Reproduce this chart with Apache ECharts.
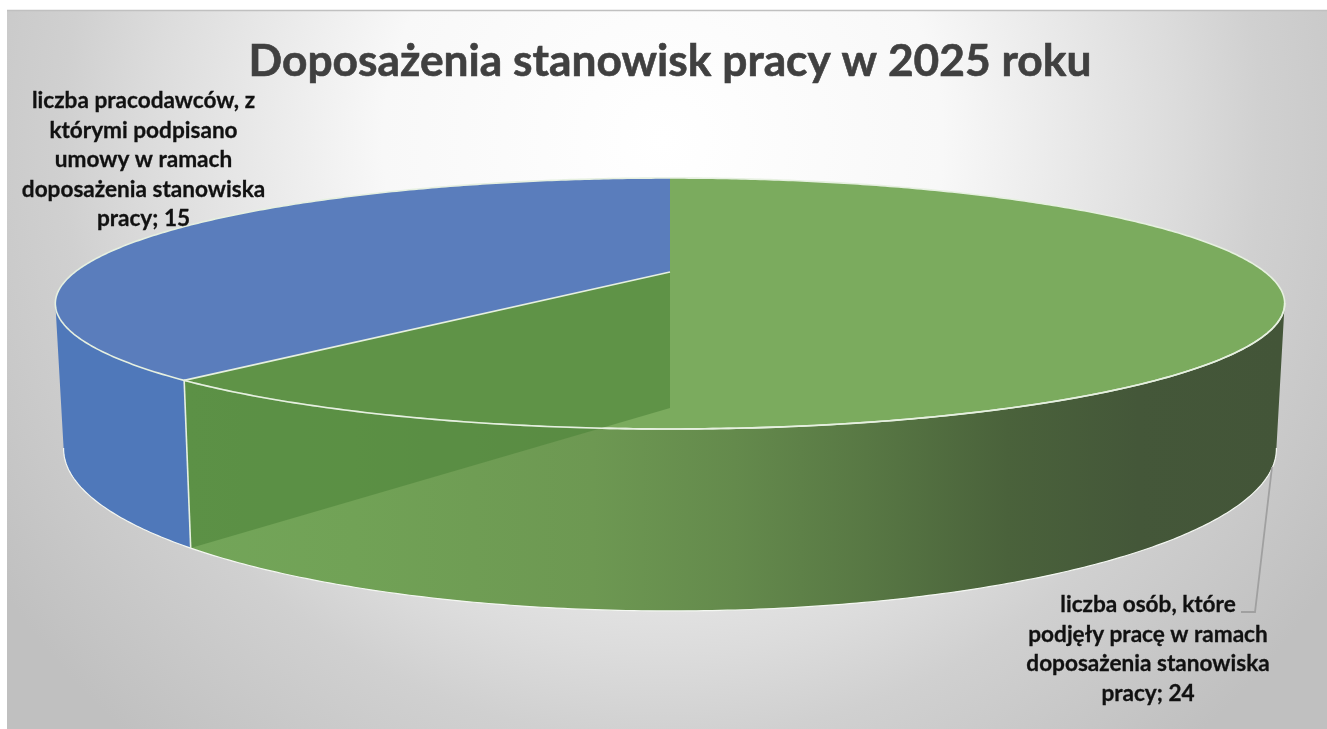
<!DOCTYPE html>
<html>
<head>
<meta charset="utf-8">
<style>
  html, body { margin: 0; padding: 0; background: #fff; }
  #chart { width: 1327px; height: 729px; }
</style>
<script src="https://cdn.jsdelivr.net/npm/echarts@6/dist/echarts.min.js"></script>
</head>
<body>
<div id="chart"></div>
<script>
const chartTitle = 'Doposażenia stanowisk pracy w 2025 roku';
const categories = [
  'liczba pracodawców, z\nktórymi podpisano\numowy w ramach\ndoposażenia stanowiska\npracy',
  'liczba osób, które\npodjęły pracę w ramach\ndoposażenia stanowiska\npracy'
];
const values = [15, 24];
const topColors = ['#5a7dbc', '#7bab5e'];
const wallColors = ['#4f78ba', null];

const chart = echarts.init(document.getElementById('chart'));
const total = values.reduce((a, b) => a + b, 0);

// perspektywa: okrag jednostkowy -> ekran (gorna i dolna sciana dysku)
const cx = 670, k = -0.251;
const topFace = { y0: 272, by: 49.3, rx: 595 };
const bottomFace = { y0: 408, by: 49.6, rx: 587 };
const visibleLimit = 104.3 * Math.PI / 180; // od tego kata widac sciane boczna
const edgeColor = '#e6f0e0';

function project(face, angle) {
  const u = Math.sin(angle), v = -Math.cos(angle);
  const w = 1 + k * v;
  return [cx + face.rx * u / w, (face.y0 + face.by * v) / w];
}

function arc(face, from, to) {
  const pts = [];
  const steps = Math.max(2, Math.ceil(Math.abs(to - from) / 0.01));
  for (let i = 0; i <= steps; i++) {
    pts.push(project(face, from + (to - from) * i / steps));
  }
  return pts;
}

const greenWall = {
  type: 'linear', x: 190, y: 0, x2: 1280, y2: 0, global: true,
  colorStops: [
    { offset: 0, color: '#73a559' },
    { offset: 0.15, color: '#71a256' },
    { offset: 0.37, color: '#6d9852' },
    { offset: 0.5, color: '#648a4c' },
    { offset: 0.62, color: '#587844' },
    { offset: 0.75, color: '#4a623b' },
    { offset: 0.87, color: '#445739' },
    { offset: 1, color: '#435538' }
  ]
};

function renderSlice(params, api) {
  const idx = params.dataIndex;
  let start = -values[0] / total * Math.PI * 2;
  for (let i = 0; i < idx; i++) start += values[i] / total * Math.PI * 2;
  const end = start + api.value(0) / total * Math.PI * 2;
  const children = [];

  // sciana boczna (tylko przod dysku)
  const norm = a => (a + Math.PI * 4) % (Math.PI * 2);
  let wFrom, wTo;
  if (idx === 0) { wFrom = norm(start); wTo = Math.PI * 2 - visibleLimit; }
  else { wFrom = visibleLimit; wTo = norm(end); }
  const wallTop = arc(topFace, wFrom, wTo);
  const wallBottom = arc(bottomFace, wTo, wFrom);
  children.push({
    type: 'polygon',
    shape: { points: wallTop.concat(wallBottom) },
    style: { fill: wallColors[idx] || greenWall }
  });
  children.push({
    type: 'polyline',
    shape: { points: wallBottom },
    style: { fill: null, stroke: '#f4f7f2', lineWidth: 1.2 }
  });

  // gorna sciana
  const c = [cx, topFace.y0];
  children.push({
    type: 'polygon',
    shape: { points: [c].concat(arc(topFace, start, end)) },
    style: { fill: topColors[idx] }
  });
  children.push({
    type: 'polyline',
    shape: { points: arc(topFace, start, end) },
    style: { fill: null, stroke: edgeColor, lineWidth: 1.6 }
  });

  if (idx === 1) {
    // wewnetrzna sciana przekroju, widoczna przez zielony wycinek
    const p1 = project(topFace, end), p2 = project(bottomFace, end);
    children.push({
      type: 'polygon',
      shape: { points: [c, p1, p2, [cx, bottomFace.y0]] },
      style: { fill: 'rgba(78,132,58,0.62)' }
    });
    children.push({
      type: 'line',
      shape: { x1: p1[0], y1: p1[1], x2: p2[0], y2: p2[1] },
      style: { stroke: edgeColor, lineWidth: 1.6 }
    });
    children.push({
      type: 'polyline',
      shape: { points: arc(topFace, visibleLimit, end) },
      style: { fill: null, stroke: edgeColor, lineWidth: 1.6 }
    });
    children.push({
      type: 'line',
      shape: { x1: c[0], y1: c[1], x2: p1[0], y2: p1[1] },
      style: { stroke: edgeColor, lineWidth: 1.6 }
    });
  }
  return { type: 'group', children };
}

const labelBase = {
  fontFamily: 'Lato', fontWeight: 'bold', fontSize: 22.6, lineHeight: 29.5,
  fill: '#111', textAlign: 'center', textVerticalAlign: 'top',
  stroke: '#111', lineWidth: 0.3
};

chart.setOption({
  animation: false,
  backgroundColor: '#ffffff',
  title: {
    text: chartTitle,
    left: 665,
    top: 35,
    textAlign: 'center',
    textStyle: {
      fontFamily: 'Lato', fontWeight: 'bold', fontSize: 44.3, color: '#404040',
      textBorderColor: '#404040', textBorderWidth: 0.6
    }
  },
  graphic: [
    {
      type: 'rect',
      z: -1,
      shape: { x: 7, y: 10, width: 1320, height: 719 },
      style: {
        fill: {
          type: 'radial', x: 663, y: 140, r: 800, global: true,
          colorStops: [
            { offset: 0, color: '#ffffff' },
            { offset: 0.35, color: '#f8f8f8' },
            { offset: 0.64, color: '#dcdcdc' },
            { offset: 0.75, color: '#d0d0d0' },
            { offset: 1, color: '#c0c0c0' }
          ]
        }
      }
    },
    {
      type: 'line', z: -1,
      shape: { x1: 7, y1: 10.5, x2: 1327, y2: 10.5 },
      style: { stroke: '#c0c0c0', lineWidth: 1.5 }
    },
    // linia odniesienia etykiety
    {
      type: 'polyline', z: 5,
      shape: { points: [[1272, 467], [1255, 612], [1241, 612]] },
      style: { fill: null, stroke: '#a0a0a0', lineWidth: 1.8 }
    },
    {
      type: 'text', z: 6, x: 143.5, y: 86,
      style: Object.assign({ text: categories[0] + '; ' + values[0] }, labelBase)
    },
    {
      type: 'text', z: 6, x: 1148, y: 590,
      style: Object.assign({ text: categories[1] + '; ' + values[1] }, labelBase)
    }
  ],
  series: [{
    type: 'custom',
    coordinateSystem: 'none',
    silent: true,
    clip: false,
    data: values,
    encode: { value: 0 },
    renderItem: renderSlice
  }]
});
</script>
</body>
</html>
